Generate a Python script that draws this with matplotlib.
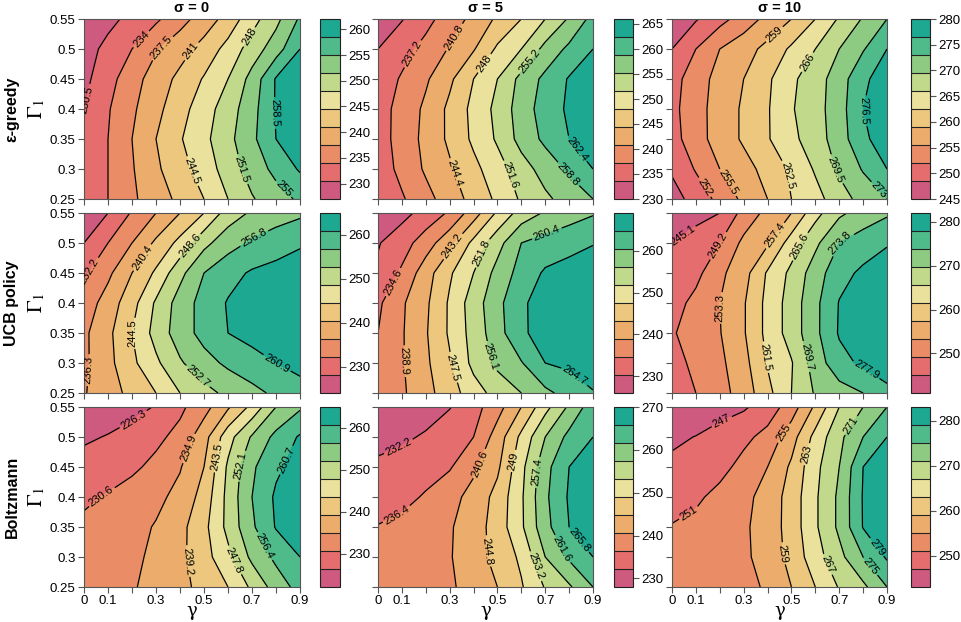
import numpy as np
import matplotlib
matplotlib.use('Agg')
import matplotlib.pyplot as plt
from matplotlib.colors import ListedColormap

plt.rcParams['font.family'] = ['Liberation Sans', 'DejaVu Sans']
plt.rcParams['mathtext.fontset'] = 'stix'

# grid of the runs
gamma = [0.0, 0.1, 0.2, 0.3, 0.4, 0.5, 0.6, 0.7, 0.8, 0.9]
gamma1 = [0.25, 0.30, 0.35, 0.40, 0.45, 0.50, 0.55]

row_names = ['ε-greedy', 'UCB policy', 'Boltzmann']
col_titles = ['σ = 0', 'σ = 5', 'σ = 10']

# rows go from Gamma1 = 0.25 (bottom) up to 0.55 (top)
eps_s0 = [
    [231.0, 234.0, 236.9, 239.4, 241.8, 244.5, 248.0, 251.2, 253.5, 255.6],
    [231.0, 234.0, 237.2, 240.4, 243.2, 246.1, 249.6, 253.0, 256.0, 258.9],
    [230.8, 234.0, 237.5, 241.0, 244.2, 247.1, 250.5, 254.2, 258.5, 260.8],
    [230.5, 233.7, 236.9, 240.0, 243.2, 246.4, 249.8, 253.7, 258.8, 261.0],
    [229.6, 232.7, 236.1, 239.1, 241.9, 244.8, 248.0, 252.7, 258.8, 260.5],
    [229.0, 231.5, 234.0, 237.2, 239.6, 242.3, 245.7, 249.6, 253.4, 258.5],
    [227.5, 229.5, 231.5, 233.4, 236.2, 239.1, 242.3, 246.7, 250.5, 255.5],
]
eps_s5 = [
    [234.5, 236.8, 239.6, 242.6, 245.6, 248.7, 252.1, 254.5, 256.7, 258.8],
    [235.2, 238.2, 241.3, 243.9, 247.0, 250.1, 253.6, 256.7, 259.4, 262.4],
    [235.6, 238.6, 241.8, 245.1, 248.7, 252.1, 256.5, 259.6, 262.4, 263.8],
    [235.6, 238.5, 241.5, 245.2, 249.0, 252.6, 257.0, 260.4, 263.0, 264.5],
    [235.0, 237.6, 240.3, 243.7, 248.0, 251.6, 256.3, 259.7, 262.7, 264.0],
    [233.6, 235.9, 238.3, 241.1, 244.1, 248.6, 251.6, 256.3, 259.6, 262.4],
    [230.8, 233.4, 236.1, 238.9, 241.8, 245.0, 248.0, 251.6, 255.6, 260.0],
]
eps_s10 = [
    [247.0, 249.9, 253.0, 256.3, 259.0, 262.5, 264.8, 267.9, 270.8, 273.0],
    [249.0, 252.3, 255.5, 257.7, 260.2, 263.1, 266.4, 270.1, 273.3, 276.5],
    [250.6, 254.1, 257.0, 259.5, 262.2, 265.1, 267.9, 271.2, 276.0, 277.8],
    [251.0, 254.2, 257.0, 259.5, 262.2, 265.7, 268.1, 271.5, 276.5, 278.2],
    [250.6, 253.9, 256.7, 259.0, 261.9, 265.3, 268.0, 271.2, 276.0, 277.8],
    [248.5, 252.0, 255.5, 257.6, 260.0, 263.1, 266.0, 269.5, 272.7, 276.5],
    [246.0, 248.2, 250.8, 253.6, 256.5, 259.0, 262.5, 266.4, 269.8, 273.0],
]
ucb_s0 = [
    [236.0, 238.6, 241.6, 244.5, 248.6, 251.3, 253.7, 255.6, 257.6, 259.5],
    [235.5, 239.2, 243.6, 247.8, 252.2, 255.3, 257.6, 259.3, 260.9, 262.0],
    [235.5, 239.4, 244.5, 250.1, 254.8, 258.2, 260.9, 262.3, 263.2, 264.0],
    [234.0, 238.1, 243.0, 249.2, 254.5, 258.4, 261.2, 262.5, 263.4, 264.0],
    [231.5, 235.4, 240.4, 245.2, 251.5, 256.8, 259.5, 261.4, 262.4, 263.0],
    [228.1, 232.2, 236.3, 241.2, 245.7, 251.5, 255.2, 257.4, 258.8, 260.4],
    [225.5, 228.1, 232.6, 236.3, 240.4, 244.5, 250.5, 253.3, 255.0, 256.0],
]
ucb_s5 = [
    [235.5, 238.2, 241.8, 245.5, 249.9, 253.4, 256.1, 259.4, 262.0, 264.5],
    [235.0, 238.5, 242.4, 247.0, 253.0, 257.1, 260.1, 264.7, 265.6, 266.5],
    [234.6, 238.5, 242.8, 248.1, 253.5, 258.6, 264.3, 265.7, 266.5, 267.3],
    [233.8, 238.3, 242.4, 248.1, 254.0, 259.1, 264.3, 265.8, 266.7, 267.5],
    [231.0, 235.3, 241.3, 246.9, 251.8, 257.6, 262.0, 265.3, 266.3, 267.0],
    [230.0, 232.7, 236.8, 241.9, 248.7, 254.5, 260.4, 262.0, 263.3, 264.5],
    [227.5, 229.0, 231.8, 235.2, 241.1, 248.2, 253.6, 256.6, 258.4, 260.0],
]
ucb_s10 = [
    [246.5, 249.2, 251.8, 255.1, 260.3, 265.6, 270.1, 272.0, 273.8, 277.0],
    [247.8, 250.1, 252.4, 256.0, 261.8, 265.3, 271.6, 276.5, 278.7, 279.8],
    [248.8, 251.0, 253.1, 257.0, 262.7, 267.4, 272.8, 278.3, 279.5, 280.4],
    [247.5, 250.4, 253.3, 257.0, 262.7, 267.4, 272.8, 278.1, 279.5, 280.5],
    [245.5, 248.0, 252.4, 255.8, 262.0, 266.6, 271.8, 276.5, 278.7, 279.8],
    [245.1, 247.2, 249.2, 254.3, 256.9, 263.5, 268.8, 273.8, 275.8, 277.6],
    [242.0, 243.5, 245.1, 250.6, 254.5, 257.4, 264.2, 268.9, 271.4, 273.2],
]
boltz_s0 = [
    [232.0, 232.9, 234.5, 236.3, 238.1, 240.4, 243.5, 248.6, 254.0, 258.0],
    [231.6, 232.7, 233.9, 235.9, 238.2, 241.8, 246.7, 253.1, 257.4, 260.7],
    [231.3, 232.3, 233.6, 235.2, 237.9, 242.3, 249.0, 255.7, 261.0, 262.8],
    [230.0, 230.9, 232.4, 233.9, 236.1, 240.9, 249.1, 256.4, 261.4, 263.0],
    [228.3, 229.0, 229.8, 231.7, 234.6, 239.2, 248.5, 255.7, 259.9, 262.5],
    [225.5, 226.6, 228.1, 229.6, 231.9, 237.5, 246.1, 252.6, 257.6, 261.2],
    [222.5, 223.5, 224.8, 226.6, 229.7, 233.3, 238.6, 244.7, 252.1, 255.8],
]
boltz_s5 = [
    [237.0, 238.0, 239.0, 240.0, 242.2, 244.8, 248.6, 253.5, 256.8, 261.6],
    [237.0, 238.0, 239.2, 240.3, 243.0, 246.1, 249.8, 257.4, 262.3, 265.8],
    [236.6, 237.7, 238.9, 240.2, 242.7, 246.7, 252.5, 260.2, 265.8, 267.5],
    [234.2, 235.0, 236.9, 239.2, 242.0, 246.2, 252.6, 260.8, 266.3, 268.0],
    [233.0, 233.6, 234.5, 236.0, 239.8, 244.0, 252.0, 260.2, 265.8, 267.5],
    [230.8, 231.6, 232.6, 234.5, 236.4, 242.5, 250.0, 257.4, 262.8, 265.8],
    [229.0, 229.8, 230.7, 232.0, 234.8, 239.0, 244.8, 251.8, 258.1, 264.0],
]
boltz_s10 = [
    [251.5, 252.3, 253.1, 254.1, 255.4, 259.0, 263.0, 267.3, 270.1, 275.0],
    [251.5, 252.4, 253.3, 254.3, 256.5, 260.3, 265.3, 269.8, 275.0, 279.5],
    [251.2, 252.1, 253.3, 254.4, 256.7, 260.7, 266.4, 271.8, 279.2, 280.8],
    [249.5, 250.3, 252.2, 253.9, 256.5, 260.7, 266.4, 271.8, 279.3, 281.0],
    [247.8, 248.3, 249.7, 252.3, 255.0, 259.7, 265.9, 271.0, 279.0, 280.6],
    [246.3, 247.1, 248.6, 250.0, 252.3, 257.3, 264.3, 270.0, 275.0, 279.0],
    [244.0, 244.6, 245.4, 246.5, 248.8, 253.0, 259.7, 267.0, 271.0, 275.0],
]

grids = [[eps_s0, eps_s5, eps_s10],
         [ucb_s0, ucb_s5, ucb_s10],
         [boltz_s0, boltz_s5, boltz_s10]]

# 10 equal bands per panel: start value and band width
lev_start = [[227, 230, 245], [224, 226, 241], [222, 228, 243]]
lev_step = [[3.5, 3.6, 3.5], [4.1, 4.3, 4.1], [4.3, 4.2, 4.0]]

cbar_ticks = [[[230, 235, 240, 245, 250, 255, 260],
               [230, 235, 240, 245, 250, 255, 260, 265],
               [245, 250, 255, 260, 265, 270, 275, 280]],
              [[230, 240, 250, 260], [230, 240, 250, 260], [250, 260, 270, 280]],
              [[230, 240, 250, 260], [230, 240, 250, 260, 270], [250, 260, 270, 280]]]

xtick_lab = ['0', '0.1', '', '0.3', '', '0.5', '', '0.7', '', '0.9']
ytick_lab = ['0.25', '0.3', '0.35', '0.4', '0.45', '0.5', '0.55']

# where each contour label sits (one per inner level, None = unlabelled)
label_pos = [
    [[(0.02, 0.415), (0.25, 0.512), (0.35, 0.49), (0.46, 0.493), (0.46, 0.298),
      (0.66, 0.527), (0.65, 0.298), (0.84, 0.27), (0.78, 0.393)],
     [None, (0.145, 0.492), (0.33, 0.517), (0.316, 0.292), (0.45, 0.475),
      (0.525, 0.286), (0.63, 0.48), (0.78, 0.286), (0.84, 0.336)],
     [None, (0.134, 0.269), (0.245, 0.28), (0.446, 0.517), (0.431, 0.286),
      (0.558, 0.48), (0.647, 0.292), (0.848, 0.258), (0.803, 0.397)]],
    [[None, (0.028, 0.452), (0.021, 0.288), (0.22, 0.482), (0.194, 0.349),
      (0.43, 0.499), (0.485, 0.282), (0.706, 0.51), (0.803, 0.299)],
     [None, (0.077, 0.432), (0.115, 0.303), (0.346, 0.487), (0.308, 0.292),
      (0.443, 0.482), (0.45, 0.309), (0.718, 0.504), (0.815, 0.275)],
     [(0.06, 0.504), (0.23, 0.487), (0.208, 0.392), (0.439, 0.51), (0.379, 0.309),
      (0.543, 0.493), (0.543, 0.309), (0.707, 0.499), (0.811, 0.287)]],
    [[(0.208, 0.528), (0.083, 0.394), (0.457, 0.478), (0.443, 0.294), (0.554, 0.467),
      (0.623, 0.294), (0.665, 0.45), (0.748, 0.317), (0.845, 0.461)],
     [(0.085, 0.485), (0.085, 0.366), (0.435, 0.454), (0.465, 0.31), (0.569, 0.46),
      (0.644, 0.282), (0.666, 0.441), (0.755, 0.31), (0.852, 0.332)],
     [(0.216, 0.519), (0.067, 0.375), (0.469, 0.506), (0.469, 0.306), (0.558, 0.472),
      (0.625, 0.283), (0.751, 0.519), (0.811, 0.278), (0.84, 0.311)]],
]

band_colors = ['#cf5a7f', '#e56d6e', '#ea8d66', '#ecad6c', '#edc77e',
               '#eae19d', '#c0d98a', '#8ecb82', '#4fbb8b', '#1da892']
cmap = ListedColormap(band_colors)

W, H = 961, 622
fig = plt.figure(figsize=(W / 100, H / 100), dpi=100)

# pixel boxes: plot left/right, colorbar left/right
col_x = [(84, 300, 320, 340), (378, 593, 614, 633), (672, 887, 911, 930)]
row_y = [(19, 199), (213, 393), (407, 587)]


def fr(x0, y0, x1, y1):
    return [x0 / W, 1 - y1 / H, (x1 - x0) / W, (y1 - y0) / H]


edge = '#555555'
for i in range(3):
    for j in range(3):
        z = np.array(grids[i][j])
        levels = np.round(lev_start[i][j] + lev_step[i][j] * np.arange(11), 1)
        ax = fig.add_axes(fr(col_x[j][0], row_y[i][0], col_x[j][1], row_y[i][1]))
        cf = ax.contourf(gamma, gamma1, z, levels=levels, cmap=cmap)
        for k, lev in enumerate(levels[1:-1]):
            cs = ax.contour(gamma, gamma1, z, levels=[lev], colors='black',
                            linewidths=0.9)
            pos = label_pos[i][j][k]
            if pos is not None:
                ax.clabel(cs, fmt=lambda v: f'{v:g}', fontsize=8, inline=True,
                          inline_spacing=2, manual=[pos])
        ax.set_xlim(0, 0.9)
        ax.set_ylim(0.25, 0.55)
        ax.set_xticks(gamma)
        ax.set_yticks(gamma1)
        ax.set_xticklabels(xtick_lab if i == 2 else [])
        ax.set_yticklabels(ytick_lab if j == 0 else [])
        ax.tick_params(direction='out', length=4, width=0.8, color=edge,
                       labelsize=9.5, pad=2)
        for s in ax.spines.values():
            s.set_color(edge)
            s.set_linewidth(0.8)

        cax = fig.add_axes(fr(col_x[j][2], row_y[i][0], col_x[j][3], row_y[i][1]))
        cb = fig.colorbar(cf, cax=cax, ticks=cbar_ticks[i][j], drawedges=True)
        cb.dividers.set_color('#222222')
        cb.dividers.set_linewidth(0.8)
        cb.outline.set_edgecolor('#222222')
        cb.outline.set_linewidth(0.8)
        cb.ax.set_yticklabels([str(t) for t in cbar_ticks[i][j]])
        cb.ax.tick_params(direction='out', length=4, width=0.8, color=edge,
                          labelsize=9.5, pad=2)

# titles and axis labels
for j in range(3):
    cx = (col_x[j][0] + col_x[j][1]) / 2
    fig.text(cx / W, 1 - 8 / H, col_titles[j], ha='center', va='center',
             fontsize=10.5, fontweight='bold')
    fig.text(cx / W, 1 - 611 / H, 'γ', ha='center', va='center',
             fontsize=13, family='DejaVu Serif')

for i in range(3):
    cy = (row_y[i][0] + row_y[i][1]) / 2
    fig.text(12 / W, 1 - cy / H, row_names[i], rotation=90, ha='center',
             va='center', fontsize=11.5, fontweight='bold')
    fig.text(37 / W, 1 - cy / H, r'$\Gamma_1$', rotation=90, ha='center',
             va='center', fontsize=15)

fig.savefig('out.png', dpi=100)
